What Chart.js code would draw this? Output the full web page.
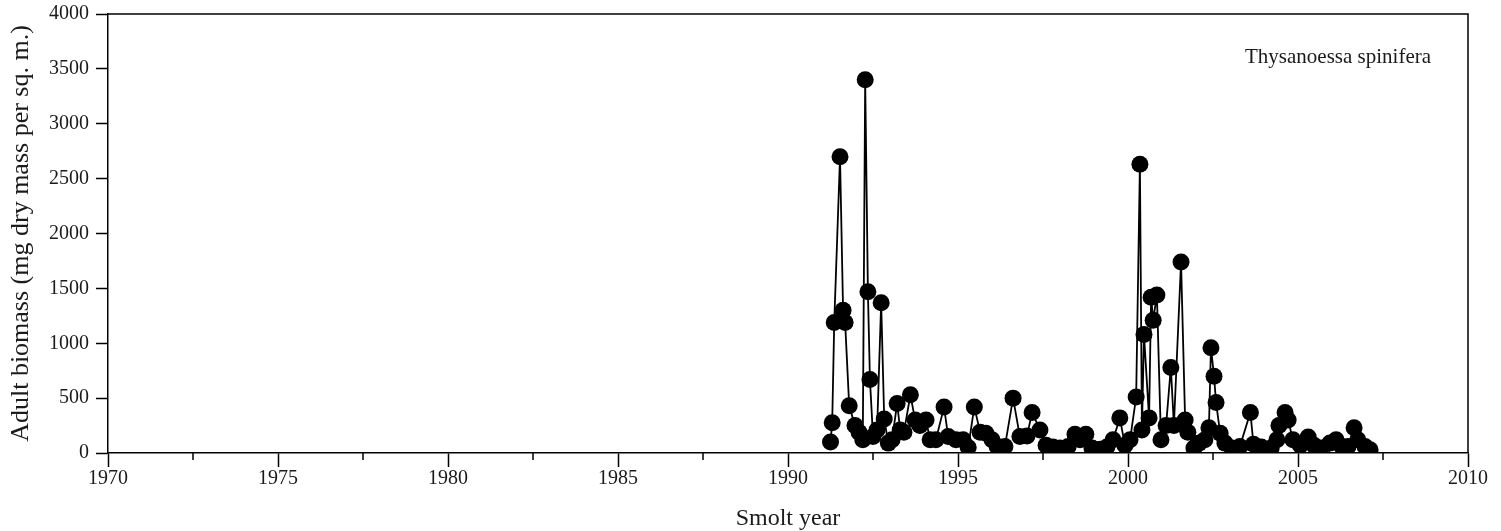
<!DOCTYPE html>
<html>
<head>
<meta charset="utf-8">
<title>Thysanoessa spinifera</title>
<script src="https://cdn.jsdelivr.net/npm/chart.js@4/dist/chart.umd.min.js"></script>
<style>
  html, body { margin: 0; padding: 0; background: #fff; }
  #wrap { width: 1501px; height: 531px; }
</style>
</head>
<body>
<div id="wrap"><canvas id="biomassChart" width="1501" height="531"></canvas></div>
<script>
// sampling dates (decimal smolt year) and adult biomass, mg dry mass per sq. m.
const sampleYears = [
  1991.25, 1991.30, 1991.36, 1991.53, 1991.62, 1991.68, 1991.80, 1991.97, 1992.09, 1992.20,
  1992.27, 1992.35, 1992.41, 1992.50, 1992.62, 1992.74, 1992.83, 1992.95, 1993.06, 1993.21,
  1993.30, 1993.41, 1993.60, 1993.74, 1993.88, 1994.06, 1994.18, 1994.35, 1994.59, 1994.71,
  1994.94, 1995.15, 1995.30, 1995.48, 1995.65, 1995.82, 1996.00, 1996.15, 1996.38, 1996.62,
  1996.82, 1997.03, 1997.18, 1997.41, 1997.59, 1997.79, 1998.00, 1998.24, 1998.44, 1998.59,
  1998.76, 1998.94, 1999.18, 1999.38, 1999.56, 1999.76, 1999.91, 2000.06, 2000.24, 2000.35,
  2000.41, 2000.47, 2000.62, 2000.68, 2000.74, 2000.85, 2000.97, 2001.12, 2001.26, 2001.35,
  2001.56, 2001.68, 2001.76, 2001.94, 2002.09, 2002.26, 2002.38, 2002.44, 2002.53, 2002.59,
  2002.71, 2002.85, 2003.06, 2003.29, 2003.60, 2003.69, 2003.92, 2004.21, 2004.38, 2004.44,
  2004.62, 2004.71, 2004.85, 2005.07, 2005.30, 2005.47, 2005.71, 2005.94, 2006.12, 2006.29,
  2006.47, 2006.65, 2006.76, 2006.97, 2007.12
];
const adultBiomass = [
  100, 275, 1190, 2700, 1300, 1190, 430, 250, 190, 120,
  3400, 1470, 670, 150, 210, 1370, 310, 90, 120, 450,
  210, 190, 530, 300, 250, 300, 120, 120, 420, 150,
  120, 120, 50, 420, 190, 180, 120, 60, 60, 500,
  150, 155, 370, 210, 70, 55, 45, 60, 170, 120,
  170, 45, 35, 55, 120, 320, 70, 120, 510, 2630,
  210, 1080, 320, 1420, 1210, 1440, 120, 250, 780, 250,
  1740, 300, 190, 45, 90, 120, 230, 960, 700, 460,
  180, 90, 45, 60, 370, 80, 55, 45, 120, 250,
  370, 300, 120, 70, 145, 70, 45, 90, 120, 60,
  60, 230, 120, 60, 30
];
const yearTicks = [1970, 1975, 1980, 1985, 1990, 1995, 2000, 2005, 2010];
const biomassTicks = [0, 500, 1000, 1500, 2000, 2500, 3000, 3500, 4000];
const speciesName = 'Thysanoessa spinifera';

const ink = '#000';
const serif = '"Liberation Serif", "Times New Roman", serif';

// box on top/right, half-step ticks on the year axis, species label
const frameExtras = {
  id: 'frameExtras',
  afterDraw(chart) {
    const { ctx, chartArea: a, scales: { x } } = chart;
    ctx.save();
    ctx.strokeStyle = ink;
    ctx.lineWidth = 1.5;
    ctx.beginPath();
    ctx.moveTo(a.left, a.top);
    ctx.lineTo(a.right, a.top);
    ctx.lineTo(a.right, a.bottom);
    ctx.stroke();

    ctx.beginPath();
    for (let i = 0; i < yearTicks.length - 1; i++) {
      const px = x.getPixelForValue((yearTicks[i] + yearTicks[i + 1]) / 2);
      ctx.moveTo(px, a.bottom);
      ctx.lineTo(px, a.bottom + 7);
    }
    ctx.stroke();

    ctx.fillStyle = '#1a1a1a';
    ctx.font = '21px ' + serif;
    ctx.textAlign = 'center';
    ctx.textBaseline = 'middle';
    ctx.fillText(speciesName, a.right - 130, a.top + 43);
    ctx.restore();
  }
};

const points = sampleYears.map((yr, i) => ({ x: yr, y: adultBiomass[i] }));

new Chart(document.getElementById('biomassChart'), {
  type: 'scatter',
  data: {
    datasets: [{
      label: speciesName,
      data: points,
      showLine: true,
      borderColor: ink,
      borderWidth: 1.8,
      backgroundColor: ink,
      pointRadius: 8.5,
      pointBorderWidth: 0,
      pointBackgroundColor: ink,
      tension: 0
    }]
  },
  options: {
    responsive: false,
    animation: false,
    layout: { autoPadding: false, padding: { top: 14, right: 33, left: 0, bottom: 0 } },
    plugins: { legend: { display: false }, tooltip: { enabled: false } },
    scales: {
      x: {
        type: 'linear',
        min: 1970,
        max: 2010,
        afterBuildTicks: (scale) => { scale.ticks = yearTicks.map(v => ({ value: v })); },
        afterFit: (scale) => { scale.height = 78; },
        grid: { drawOnChartArea: false, tickLength: 14, tickColor: ink, tickWidth: 1.5 },
        border: { color: ink, width: 1.5 },
        ticks: {
          color: '#1a1a1a',
          padding: 0,
          maxRotation: 0,
          autoSkip: false,
          font: { family: serif, size: 20 },
          callback: (v) => String(v)
        },
        title: {
          display: true,
          text: 'Smolt year',
          color: '#1a1a1a',
          font: { family: serif, size: 24, lineHeight: 1 },
          padding: { top: 0, bottom: 0 }
        }
      },
      y: {
        min: 0,
        max: 4000,
        afterBuildTicks: (scale) => { scale.ticks = biomassTicks.map(v => ({ value: v })); },
        afterFit: (scale) => {
          scale.width = 108;
          scale.paddingTop = 0;
          scale.paddingBottom = 0;
        },
        grid: { drawOnChartArea: false, tickLength: 12, tickColor: ink, tickWidth: 1.5 },
        border: { color: ink, width: 1.5 },
        ticks: {
          color: '#1a1a1a',
          padding: 7,
          autoSkip: false,
          font: { family: serif, size: 20 },
          callback: (v) => String(v)
        },
        title: {
          display: true,
          text: 'Adult biomass (mg dry mass per sq. m.)',
          color: '#1a1a1a',
          font: { family: serif, size: 26, lineHeight: 1.2 },
          padding: { top: 6, bottom: 0 }
        }
      }
    }
  },
  plugins: [frameExtras]
});
</script>
</body>
</html>
